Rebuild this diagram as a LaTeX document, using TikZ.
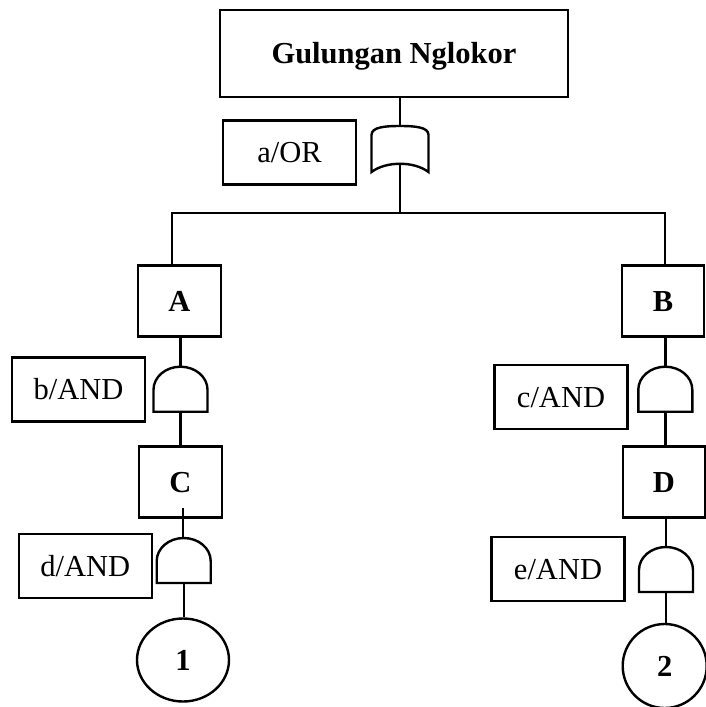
\documentclass[tikz,border=0pt]{standalone}
\usepackage{fontspec}
\setmainfont{Liberation Serif}
\usetikzlibrary{shapes.geometric}
\begin{document}
\begin{tikzpicture}[x=1pt,y=-1pt,line width=2.4pt,line join=miter,
  caps/.style={text height=20pt,text depth=0pt},
  labelbox/.style={draw,caps,inner sep=0pt,minimum width=133pt,minimum height=64pt,
    font=\fontsize{30.5}{36}\selectfont},
  eventbox/.style={draw,caps,inner sep=0pt,minimum width=83pt,minimum height=71pt,
    font=\fontsize{30.5}{36}\selectfont\bfseries},
  basic/.style={draw,caps,ellipse,inner sep=0pt,
    font=\fontsize{30.5}{36}\selectfont\bfseries},
  pics/andgate/.style={code={
    \draw (-27,45) -- (-27,23)
      .. controls (-27,10.3) and (-14.9,0) .. (0,0)
      .. controls (14.9,0) and (27,10.3) .. (27,23)
      -- (27,45) -- cycle;
    \coordinate (-in) at (0,0);
    \coordinate (-out) at (0,45);
  }},
  pics/orgate/.style={code={
    \draw (-28.5,46) -- (-28.5,9)
      .. controls (-28.5,1) and (-15,0) .. (0,0)
      .. controls (15,0) and (28.5,1) .. (28.5,9)
      -- (28.5,46)
      .. controls (14,35) and (-14,35) .. (-28.5,46) -- cycle;
    \coordinate (-in) at (0,0);
    \coordinate (-out) at (0,38);
  }}]
\useasboundingbox (0,0) rectangle (705,707);

% top event and its OR gate
\node[eventbox,minimum width=348pt,minimum height=87pt] (top) at (394,53.5) {Gulungan Nglokor};
\node[labelbox] (la) at (289.5,152.5) {a/OR};
\pic (og) at (400,126) {orgate};

% intermediate events
\node[eventbox] (A) at (179.5,301) {A};
\node[eventbox,minimum width=82pt] (B) at (663,301) {B};
\node[eventbox] (C) at (180.5,482) {C};
\node[eventbox,minimum width=82pt] (D) at (664,482) {D};

% AND gates with their labels
\pic (bg) at (180.5,366.7) {andgate};
\pic (cg) at (665.3,366.7) {andgate};
\pic (dg) at (183.7,538) {andgate};
\pic (eg) at (666,547) {andgate};
\node[labelbox] (lb) at (78.5,389.5) {b/AND};
\node[labelbox] (lc) at (561,397) {c/AND};
\node[labelbox] (ld) at (85.3,566) {d/AND};
\node[labelbox] (le) at (558,569) {e/AND};

% basic events
\node[basic,minimum width=92pt,minimum height=83pt] (e1) at (183,660) {1};
\node[basic,minimum width=84pt,minimum height=84pt] (e2) at (664.7,666) {2};

% connectors
\coordinate (bar) at (400,213);
\coordinate (barL) at (172,213);
\coordinate (barR) at (665,213);
\coordinate (cstub) at (183,508);
\draw (top.south -| og-in) -- (og-in);
\draw (og-out) -- (bar);
\draw (A.north -| barL) -- (barL) -- (barR) -- (B.north -| barR);
\draw (A.south -| bg-in) -- (bg-in);
\draw (bg-out) -- (bg-out |- C.north);
\draw (cstub) -- (cstub |- dg-in);
\draw (dg-out) -- (dg-out |- e1.north);
\draw (B.south -| cg-in) -- (cg-in);
\draw (cg-out) -- (cg-out |- D.north);
\draw (D.south -| eg-in) -- (eg-in);
\draw (eg-out) -- (eg-out |- e2.north);
\end{tikzpicture}
\end{document}
